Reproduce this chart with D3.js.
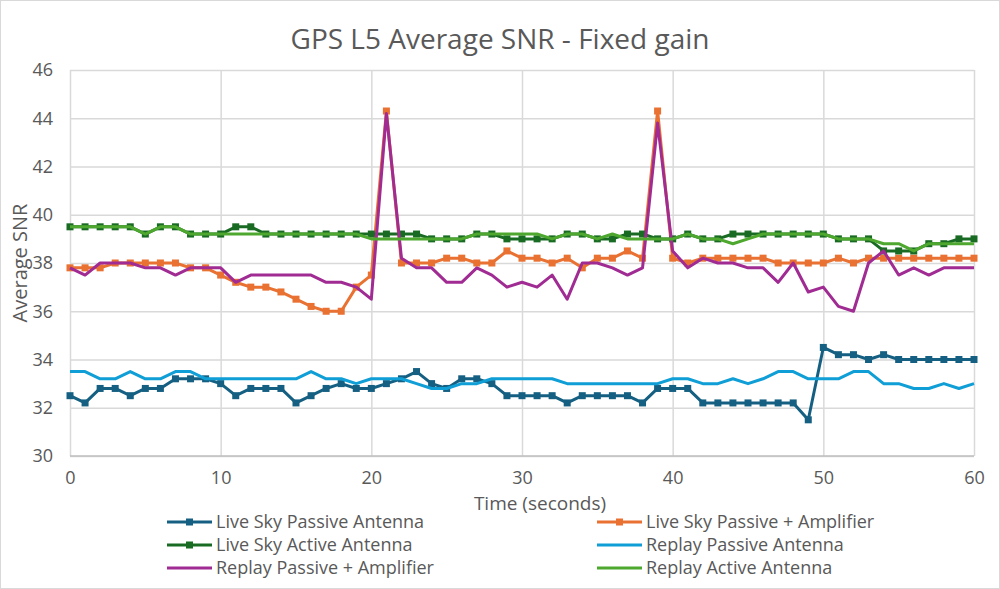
<!DOCTYPE html>
<html>
<head>
<meta charset="utf-8">
<script src="https://cdn.jsdelivr.net/npm/d3@7"></script>
<style>
  html, body { margin: 0; padding: 0; background: #fff; }
  svg { display: block; font-family: "Open Sans", "Liberation Sans", sans-serif; }
</style>
</head>
<body>
<svg id="chart" width="1000" height="589"></svg>
<script>
const title = "GPS L5 Average SNR - Fixed gain";
const xTitle = "Time (seconds)";
const yTitle = "Average SNR";
const xTicks = [0, 10, 20, 30, 40, 50, 60];
const yTicks = [30, 32, 34, 36, 38, 40, 42, 44, 46];

const time = [0,1,2,3,4,5,6,7,8,9,10,11,12,13,14,15,16,17,18,19,20,21,22,23,24,25,26,27,28,29,30,
  31,32,33,34,35,36,37,38,39,40,41,42,43,44,45,46,47,48,49,50,51,52,53,54,55,56,57,58,59,60];

const liveSkyPassive = [32.5,32.2,32.8,32.8,32.5,32.8,32.8,33.2,33.2,33.2,33.0,32.5,32.8,32.8,32.8,32.2,32.5,32.8,33.0,32.8,32.8,
  33.0,33.2,33.5,33.0,32.8,33.2,33.2,33.0,32.5,32.5,32.5,32.5,32.2,32.5,32.5,32.5,32.5,32.2,32.8,32.8,
  32.8,32.2,32.2,32.2,32.2,32.2,32.2,32.2,31.5,34.5,34.2,34.2,34.0,34.2,34.0,34.0,34.0,34.0,34.0,34.0];

const liveSkyAmp = [37.8,37.8,37.8,38.0,38.0,38.0,38.0,38.0,37.8,37.8,37.5,37.2,37.0,37.0,36.8,36.5,36.2,36.0,36.0,37.0,37.5,
  44.3,38.0,38.0,38.0,38.2,38.2,38.0,38.0,38.5,38.2,38.2,38.0,38.2,37.8,38.2,38.2,38.5,38.2,44.3,38.2,
  38.0,38.2,38.2,38.2,38.2,38.2,38.0,38.0,38.0,38.0,38.2,38.0,38.2,38.2,38.2,38.2,38.2,38.2,38.2,38.2];

const liveSkyActive = [39.5,39.5,39.5,39.5,39.5,39.2,39.5,39.5,39.2,39.2,39.2,39.5,39.5,39.2,39.2,39.2,39.2,39.2,39.2,39.2,39.2,
  39.2,39.2,39.2,39.0,39.0,39.0,39.2,39.2,39.0,39.0,39.0,39.0,39.2,39.2,39.0,39.0,39.2,39.2,39.0,39.0,
  39.2,39.0,39.0,39.2,39.2,39.2,39.2,39.2,39.2,39.2,39.0,39.0,39.0,38.5,38.5,38.5,38.8,38.8,39.0,39.0];

const replayPassive = [33.5,33.5,33.2,33.2,33.5,33.2,33.2,33.5,33.5,33.2,33.2,33.2,33.2,33.2,33.2,33.2,33.5,33.2,33.2,33.0,33.2,
  33.2,33.2,33.0,32.8,32.8,33.0,33.0,33.2,33.2,33.2,33.2,33.2,33.0,33.0,33.0,33.0,33.0,33.0,33.0,33.2,
  33.2,33.0,33.0,33.2,33.0,33.2,33.5,33.5,33.2,33.2,33.2,33.5,33.5,33.0,33.0,32.8,32.8,33.0,32.8,33.0];

const replayAmp = [37.8,37.5,38.0,38.0,38.0,37.8,37.8,37.5,37.8,37.8,37.8,37.2,37.5,37.5,37.5,37.5,37.5,37.2,37.2,37.0,36.5,
  44.2,38.2,37.8,37.8,37.2,37.2,37.8,37.5,37.0,37.2,37.0,37.5,36.5,38.0,38.0,37.8,37.5,37.8,43.8,38.5,
  37.8,38.2,38.0,38.0,37.8,37.8,37.2,38.0,36.8,37.0,36.2,36.0,38.0,38.5,37.5,37.8,37.5,37.8,37.8,37.8];

const replayActive = [39.5,39.5,39.5,39.5,39.5,39.2,39.5,39.5,39.2,39.2,39.2,39.2,39.2,39.2,39.2,39.2,39.2,39.2,39.2,39.2,39.0,
  39.0,39.0,39.0,39.0,39.0,39.0,39.2,39.2,39.2,39.2,39.2,39.0,39.2,39.2,39.0,39.2,39.0,39.0,39.0,39.0,
  39.2,39.0,39.0,38.8,39.0,39.2,39.2,39.2,39.2,39.2,39.0,39.0,39.0,38.8,38.8,38.5,38.8,38.8,38.8,38.8];

const seriesNames = ["Live Sky Passive Antenna", "Live Sky Passive + Amplifier", "Live Sky Active Antenna",
  "Replay Passive Antenna", "Replay Passive + Amplifier", "Replay Active Antenna"];
const seriesValues = [liveSkyPassive, liveSkyAmp, liveSkyActive, replayPassive, replayAmp, replayActive];
const seriesColors = ["#156082", "#E97132", "#196B24", "#0F9ED5", "#A02B93", "#4EA72E"];
const seriesMarkers = [true, true, true, false, false, false];

const svg = d3.select("#chart");
const W = 1000, H = 589;
const plot = { left: 70, right: 974, top: 70, bottom: 456 };
const textColor = "#595959";
const gridColor = "#d9d9d9";

svg.append("rect").attr("x", 0.5).attr("y", 0.5).attr("width", W - 1).attr("height", H - 1)
  .attr("fill", "#fff").attr("stroke", "#d9d9d9").attr("stroke-width", 1);

const x = d3.scaleLinear().domain([0, 60]).range([plot.left, plot.right]);
const y = d3.scaleLinear().domain([30, 46]).range([plot.bottom, plot.top]);

// grid
const gy = svg.append("g").attr("transform", `translate(${plot.left},0)`)
  .call(d3.axisLeft(y).tickValues(yTicks).tickSize(-(plot.right - plot.left)).tickFormat(d => d));
gy.select(".domain").remove();
gy.selectAll(".tick line").attr("stroke", gridColor).attr("stroke-width", 1.5);
gy.selectAll(".tick text").attr("x", -17).attr("fill", textColor)
  .style("font-size", "18px").style("font-family", "'Open Sans', sans-serif");

const gx = svg.append("g").attr("transform", `translate(0,${plot.bottom})`)
  .call(d3.axisBottom(x).tickValues(xTicks).tickSize(-(plot.bottom - plot.top)).tickFormat(d => d));
gx.select(".domain").remove();
gx.selectAll(".tick line").attr("stroke", gridColor).attr("stroke-width", 1.5);
gx.selectAll(".tick text").attr("y", 15).attr("fill", textColor)
  .style("font-size", "18px").style("font-family", "'Open Sans', sans-serif");

// bottom axis line
svg.append("line").attr("x1", plot.left).attr("x2", plot.right)
  .attr("y1", plot.bottom).attr("y2", plot.bottom).attr("stroke", "#bfbfbf").attr("stroke-width", 1.5);

// series
const line = d3.line().x((d, i) => x(time[i])).y(d => y(d));
seriesValues.forEach((vals, s) => {
  const g = svg.append("g");
  g.append("path").datum(vals).attr("d", line).attr("fill", "none")
    .attr("stroke", seriesColors[s]).attr("stroke-width", 3).attr("stroke-linejoin", "round");
  if (seriesMarkers[s]) {
    g.selectAll("rect").data(vals).enter().append("rect")
      .attr("x", (d, i) => x(time[i]) - 3.5).attr("y", d => y(d) - 3.5)
      .attr("width", 7).attr("height", 7).attr("fill", seriesColors[s]);
  }
});

// title
svg.append("text").attr("x", 500).attr("y", 49).attr("text-anchor", "middle")
  .attr("fill", textColor).style("font-size", "28px").text(title);

// axis titles
svg.append("text").attr("x", 540).attr("y", 509.5).attr("text-anchor", "middle")
  .attr("fill", textColor).style("font-size", "19px").text(xTitle);
svg.append("text").attr("transform", `translate(27,263) rotate(-90)`).attr("text-anchor", "middle")
  .attr("fill", textColor).style("font-size", "20px").text(yTitle);

// legend
const legCols = [167, 597];
const legRows = [522, 545, 568];
seriesNames.forEach((name, s) => {
  const cx = legCols[s % 2], cy = legRows[Math.floor(s / 2)];
  const g = svg.append("g");
  g.append("line").attr("x1", cx).attr("x2", cx + 45).attr("y1", cy).attr("y2", cy)
    .attr("stroke", seriesColors[s]).attr("stroke-width", 3);
  if (seriesMarkers[s]) {
    g.append("rect").attr("x", cx + 22.5 - 3.5).attr("y", cy - 3.5).attr("width", 7).attr("height", 7)
      .attr("fill", seriesColors[s]);
  }
  g.append("text").attr("x", cx + 49).attr("y", cy).attr("dy", "0.35em")
    .attr("fill", textColor).style("font-size", "18px").text(name);
});
</script>
</body>
</html>
